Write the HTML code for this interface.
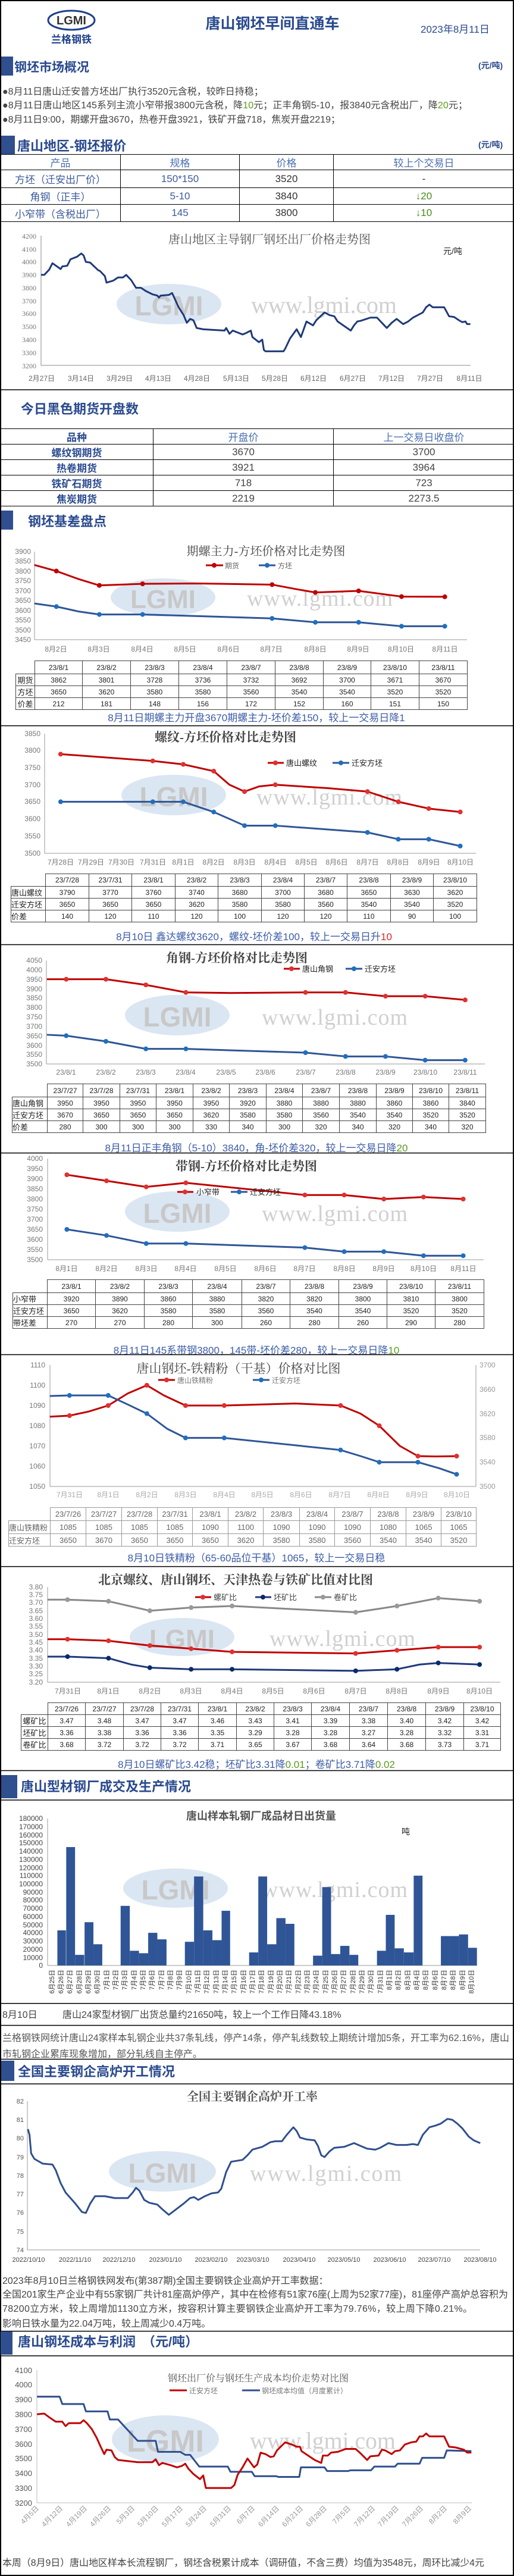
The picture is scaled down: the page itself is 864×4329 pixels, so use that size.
<!DOCTYPE html>
<html><head><meta charset="utf-8"><style>
body{margin:0;padding:0;background:#fff;}
#w{position:relative;width:864px;height:4329px;overflow:hidden;background:#fff;font-family:"Liberation Sans","Noto Sans CJK SC",sans-serif;}
svg text{font-family:"Liberation Sans","Noto Sans CJK SC",sans-serif;}
svg .sf{font-family:"Liberation Serif","Noto Serif CJK SC",serif;}
.ln{fill:none;vector-effect:non-scaling-stroke;stroke-width:3;stroke-linejoin:round;}
.dt{fill:none;vector-effect:non-scaling-stroke;stroke-width:8;stroke-linecap:round;}
.yl{font-size:12px;fill:#777;text-anchor:end;}
.xl{font-size:12px;fill:#777;text-anchor:middle;}
table{position:absolute;border-collapse:collapse;table-layout:fixed;font-size:12px;color:#222;}
td{border:1px solid #444;text-align:center;padding:0;white-space:nowrap;overflow:hidden;}
td.e{border-top:hidden;border-left:hidden;}
</style></head><body><div id="w">
<svg width="864" height="4329" viewBox="0 0 864 4329" style="position:absolute;left:0;top:0">
<!-- outer borders -->
<line x1="1" y1="0" x2="1" y2="4329" stroke="#000" stroke-width="2"/>
<line x1="863" y1="0" x2="863" y2="4329" stroke="#000" stroke-width="2"/>
<line x1="0" y1="1" x2="864" y2="1" stroke="#000" stroke-width="2"/>
<line x1="0" y1="4328" x2="864" y2="4328" stroke="#000" stroke-width="2"/>

<!-- header -->
<ellipse cx="120" cy="34" rx="39" ry="16" fill="#fff" stroke="#1e3f8c" stroke-width="3"/>
<text x="120" y="41" font-size="20" font-weight="bold" fill="#333" text-anchor="middle">LGMI</text>
<text x="120" y="72" font-size="17" font-weight="bold" fill="#1e3f8c" text-anchor="middle">兰格钢铁</text>
<text x="458" y="48" font-size="25" font-weight="bold" fill="#2a4a8e" text-anchor="middle">唐山钢坯早间直通车</text>
<text x="707" y="55" font-size="17" fill="#2a4a8e">2023年8月11日</text>

<!-- section 1 -->
<rect x="2" y="95" width="20" height="32" fill="#2f4f8f"/>
<text x="24" y="120" font-size="21" font-weight="bold" fill="#2a4a8e">钢坯市场概况</text>
<text x="804" y="115" font-size="14" font-weight="bold" fill="#2a4a8e">(元/吨)</text>
<text x="4" y="159" font-size="16" fill="#444">●8月11日唐山迁安普方坯出厂执行3520元含税，较昨日持稳；</text>
<text x="4" y="182" font-size="16" fill="#444" textLength="782">●8月11日唐山地区145系列主流小窄带报3800元含税，降<tspan fill="#5a9a20">10</tspan>元；正丰角钢5-10，报3840元含税出厂，降<tspan fill="#5a9a20">20</tspan>元；</text>
<text x="4" y="206" font-size="16" fill="#444" textLength="568">●8月11日9:00，期螺开盘3670，热卷开盘3921，铁矿开盘718，焦炭开盘2219；</text>

<rect x="2" y="228" width="23" height="31" fill="#2f4f8f"/>
<text x="29" y="253" font-size="22" font-weight="bold" fill="#2a4a8e">唐山地区-钢坯报价</text>
<text x="804" y="248" font-size="14" font-weight="bold" fill="#2a4a8e">(元/吨)</text>

<!-- chart 1 -->
<ellipse cx="284" cy="511" rx="88" ry="34" fill="#dbe6f3"/>
<text x="284" y="530" font-size="46" font-weight="bold" fill="#c8c8c8" text-anchor="middle">LGMI</text>
<text x="422" y="526" class="sf" font-size="40" fill="#d0d0d0" textLength="245">www.lgmi.com</text>
<text x="453" y="409" class="sf" font-size="20" fill="#555" text-anchor="middle">唐山地区主导钢厂钢坯出厂价格走势图</text>
<text x="745" y="427" font-size="14" fill="#222">元/吨</text>
<g class="sf">
<text class="yl sf" x="61" y="401">4200</text><text class="yl sf" x="61" y="423">4100</text><text class="yl sf" x="61" y="444">4000</text><text class="yl sf" x="61" y="466">3900</text><text class="yl sf" x="61" y="488">3800</text><text class="yl sf" x="61" y="510">3700</text><text class="yl sf" x="61" y="531">3600</text><text class="yl sf" x="61" y="553">3500</text><text class="yl sf" x="61" y="575">3400</text><text class="yl sf" x="61" y="597">3300</text><text class="yl sf" x="61" y="619">3200</text>
</g>
<line x1="69" y1="396" x2="69" y2="614" stroke="#888"/><line x1="69" y1="614" x2="791" y2="614" stroke="#888"/>
<g font-size="12" fill="#666" text-anchor="middle">
<text x="70" y="640">2月27日</text><text x="136" y="640">3月14日</text><text x="201" y="640">3月29日</text><text x="266" y="640">4月13日</text><text x="331" y="640">4月28日</text><text x="397" y="640">5月13日</text><text x="462" y="640">5月28日</text><text x="527" y="640">6月12日</text><text x="593" y="640">6月27日</text><text x="658" y="640">7月12日</text><text x="723" y="640">7月27日</text><text x="789" y="640">8月11日</text>
</g>
<g transform="translate(0,396.6) scale(0.551,0.2177)">
<path class="ln" stroke="#1f3a7a" d="M125,300 L135,300 L150,260 L160,210 L185,255 L190,235 L205,230 L215,180 L235,160 L248,135 L255,150 L262,200 L275,205 L300,265 L305,270 L320,310 L325,360 L345,345 L360,320 L375,320 L385,300 L400,340 L415,400 L430,400 L445,425 L465,450 L480,460 L485,475 L490,460 L515,455 L525,440 L545,550 L560,610 L570,670 L580,640 L590,650 L600,710 L620,720 L650,725 L685,730 L690,710 L700,755 L710,730 L740,760 L750,750 L765,730 L770,780 L790,820 L800,800 L805,880 L810,890 L865,890 L870,870 L885,790 L905,720 L918,780 L935,660 L955,690 L965,650 L990,590 L1005,610 L1020,620 L1030,660 L1070,730 L1080,690 L1090,660 L1100,655 L1130,630 L1150,630 L1180,710 L1195,670 L1210,640 L1230,680 L1245,660 L1260,630 L1275,610 L1290,590 L1300,550 L1310,530 L1320,550 L1355,550 L1370,620 L1385,625 L1400,650 L1410,665 L1420,660 L1425,680 L1435,680"/>
</g>
<line x1="0" y1="655" x2="864" y2="655" stroke="#000" stroke-width="1.5"/>

<!-- futures -->
<text x="35" y="695" font-size="22" font-weight="bold" fill="#2a4a8e">今日黑色期货开盘数</text>

<!-- section basis -->
<rect x="2" y="858" width="20" height="32" fill="#2f4f8f"/>
<text x="47" y="884" font-size="22" font-weight="bold" fill="#2a4a8e">钢坯基差盘点</text>

<!-- chart 2 -->
<ellipse cx="274" cy="1004" rx="88" ry="32" fill="#dbe6f3"/>
<text x="274" y="1022" font-size="44" font-weight="bold" fill="#c8c8c8" text-anchor="middle">LGMI</text>
<text x="415" y="1018" class="sf" font-size="38" fill="#d0d0d0" textLength="245">www.lgmi.com</text>
<text x="447" y="933" class="sf" font-size="20" fill="#444" text-anchor="middle">期螺主力-方坯价格对比走势图</text>
<line x1="346" y1="950" x2="375" y2="950" stroke="#c00000" stroke-width="3"/><circle cx="360" cy="950" r="4" fill="#c00000"/><text x="378" y="955" font-size="12" fill="#666">期货</text>
<line x1="435" y1="950" x2="463" y2="950" stroke="#2f5597" stroke-width="3"/><circle cx="449" cy="950" r="4" fill="#1f6fc0"/><text x="467" y="955" font-size="12" fill="#666">方坯</text>
<g>
<text class="yl" x="52" y="931">3900</text><text class="yl" x="52" y="947">3850</text><text class="yl" x="52" y="964">3800</text><text class="yl" x="52" y="980">3750</text><text class="yl" x="52" y="997">3700</text><text class="yl" x="52" y="1013">3650</text><text class="yl" x="52" y="1030">3600</text><text class="yl" x="52" y="1046">3550</text><text class="yl" x="52" y="1063">3500</text><text class="yl" x="52" y="1079">3450</text>
</g>
<line x1="58" y1="927" x2="58" y2="1075" stroke="#999"/><line x1="58" y1="1075" x2="785" y2="1075" stroke="#999"/>
<g class="xl"><text class="xl" x="94" y="1095">8月2日</text><text class="xl" x="166" y="1095">8月3日</text><text class="xl" x="239" y="1095">8月4日</text><text class="xl" x="311" y="1095">8月5日</text><text class="xl" x="384" y="1095">8月6日</text><text class="xl" x="456" y="1095">8月7日</text><text class="xl" x="530" y="1095">8月8日</text><text class="xl" x="602" y="1095">8月9日</text><text class="xl" x="674" y="1095">8月10日</text><text class="xl" x="748" y="1095">8月11日</text></g>
<g transform="translate(0,927) scale(0.551,0.33)">
<path class="ln" stroke="#c00000" d="M105,68 L172,99 L240,140 L303,172 L435,164 L600,162 L830,168 L900,190 L962,208 L1094,200 L1225,229 L1357,230"/>
<path class="dt" stroke="#c00000" d="M172,99h0M303,172h0M435,164h0M830,168h0M962,208h0M1094,200h0M1225,229h0M1357,230h0"/>
<path class="ln" stroke="#2f5597" d="M105,264 L172,280 L240,305 L303,320 L435,320 L830,340 L962,360 L1094,360 L1225,380 L1357,380"/>
<path class="dt" stroke="#1f6fc0" d="M172,280h0M303,320h0M435,320h0M830,340h0M962,360h0M1094,360h0M1225,380h0M1357,380h0"/>
</g>
<text x="431" y="1212" font-size="17" fill="#3c5ca8" text-anchor="middle">8月11日期螺主力开盘3670期螺主力-坯价差150，较上一交易日降1</text>
<line x1="0" y1="1219.6" x2="864" y2="1219.6" stroke="#000" stroke-width="1.5"/>

<!-- chart 3 -->
<ellipse cx="292" cy="1336" rx="88" ry="34" fill="#dbe6f3"/>
<text x="292" y="1355" font-size="46" font-weight="bold" fill="#c8c8c8" text-anchor="middle">LGMI</text>
<text x="431" y="1352" class="sf" font-size="38" fill="#d0d0d0" textLength="245">www.lgmi.com</text>
<text x="379" y="1246" class="sf" font-size="21" font-weight="bold" fill="#444" text-anchor="middle">螺纹-方坯价格对比走势图</text>
<line x1="450" y1="1282" x2="477" y2="1282" stroke="#c00000" stroke-width="3"/><circle cx="463" cy="1282" r="4" fill="#e03030"/><text x="481" y="1287" font-size="13" fill="#222">唐山螺纹</text>
<line x1="559" y1="1282" x2="587" y2="1282" stroke="#2f5597" stroke-width="3"/><circle cx="573" cy="1282" r="4" fill="#1f6fc0"/><text x="591" y="1287" font-size="13" fill="#222">迁安方坯</text>
<text class="yl" x="68" y="1237">3850</text><text class="yl" x="68" y="1265">3800</text><text class="yl" x="68" y="1294">3750</text><text class="yl" x="68" y="1323">3700</text><text class="yl" x="68" y="1351">3650</text><text class="yl" x="68" y="1380">3600</text><text class="yl" x="68" y="1409">3550</text><text class="yl" x="68" y="1438">3500</text>
<line x1="75" y1="1233" x2="75" y2="1434" stroke="#999"/><line x1="75" y1="1434" x2="800" y2="1434" stroke="#999"/>
<text class="xl" x="102" y="1453">7月28日</text><text class="xl" x="153" y="1453">7月29日</text><text class="xl" x="204" y="1453">7月30日</text><text class="xl" x="257" y="1453">7月31日</text><text class="xl" x="308" y="1453">8月1日</text><text class="xl" x="359" y="1453">8月2日</text><text class="xl" x="411" y="1453">8月3日</text><text class="xl" x="463" y="1453">8月4日</text><text class="xl" x="515" y="1453">8月5日</text><text class="xl" x="566" y="1453">8月6日</text><text class="xl" x="618" y="1453">8月7日</text><text class="xl" x="669" y="1453">8月8日</text><text class="xl" x="721" y="1453">8月9日</text><text class="xl" x="774" y="1453">8月10日</text>
<g transform="translate(0,1233) scale(0.551,0.572)">
<path class="ln" stroke="#c00000" d="M185,60 L466,80 L559,90 L652,110 L700,150 L746,170 L790,155 L840,150 L1000,160 L1121,170 L1215,200 L1308,220 L1404,230"/>
<path class="dt" stroke="#e03030" d="M185,60h0M466,80h0M559,90h0M652,110h0M746,170h0M840,150h0M1121,170h0M1215,200h0M1308,220h0M1404,230h0"/>
<path class="ln" stroke="#2f5597" d="M185,200 L466,200 L559,200 L652,230 L746,270 L840,270 L1121,290 L1215,310 L1308,310 L1404,330"/>
<path class="dt" stroke="#1f6fc0" d="M185,200h0M466,200h0M559,200h0M652,230h0M746,270h0M840,270h0M1121,290h0M1215,310h0M1308,310h0M1404,330h0"/>
</g>
<text x="427" y="1580" font-size="17" fill="#3c5ca8" text-anchor="middle">8月10日 鑫达螺纹3620，螺纹-坯价差100，较上一交易日升<tspan fill="#e02020">10</tspan></text>
<line x1="0" y1="1587.5" x2="864" y2="1587.5" stroke="#000" stroke-width="1.5"/>

<!-- chart 4 -->
<ellipse cx="298" cy="1706" rx="88" ry="34" fill="#dbe6f3"/>
<text x="298" y="1725" font-size="46" font-weight="bold" fill="#c8c8c8" text-anchor="middle">LGMI</text>
<text x="440" y="1722" class="sf" font-size="38" fill="#d0d0d0" textLength="245">www.lgmi.com</text>
<text x="398" y="1617" class="sf" font-size="21" font-weight="bold" fill="#444" text-anchor="middle">角钢-方坯价格对比走势图</text>
<line x1="477" y1="1628" x2="504" y2="1628" stroke="#c00000" stroke-width="3"/><circle cx="490" cy="1628" r="4" fill="#e03030"/><text x="508" y="1633" font-size="13" fill="#222">唐山角钢</text>
<line x1="581" y1="1628" x2="609" y2="1628" stroke="#2f5597" stroke-width="3"/><circle cx="595" cy="1628" r="4" fill="#1f6fc0"/><text x="613" y="1633" font-size="13" fill="#222">迁安方坯</text>
<text class="yl" x="71" y="1618">4050</text><text class="yl" x="71" y="1634">4000</text><text class="yl" x="71" y="1650">3950</text><text class="yl" x="71" y="1666">3900</text><text class="yl" x="71" y="1681">3850</text><text class="yl" x="71" y="1697">3800</text><text class="yl" x="71" y="1713">3750</text><text class="yl" x="71" y="1729">3700</text><text class="yl" x="71" y="1745">3650</text><text class="yl" x="71" y="1761">3600</text><text class="yl" x="71" y="1776">3550</text><text class="yl" x="71" y="1792">3500</text>
<line x1="78" y1="1614" x2="78" y2="1788" stroke="#999"/><line x1="78" y1="1788" x2="815" y2="1788" stroke="#999"/>
<text class="xl" x="111" y="1806">23/8/1</text><text class="xl" x="178" y="1806">23/8/2</text><text class="xl" x="245" y="1806">23/8/3</text><text class="xl" x="312" y="1806">23/8/4</text><text class="xl" x="380" y="1806">23/8/5</text><text class="xl" x="446" y="1806">23/8/6</text><text class="xl" x="514" y="1806">23/8/7</text><text class="xl" x="581" y="1806">23/8/8</text><text class="xl" x="648" y="1806">23/8/9</text><text class="xl" x="715" y="1806">23/8/10</text><text class="xl" x="782" y="1806">23/8/11</text>
<g transform="translate(0,1614) scale(0.551,0.3163)">
<path class="ln" stroke="#c00000" d="M143,100 L202,100 L323,100 L445,130 L567,170 L700,173 L932,170 L1054,170 L1176,190 L1297,190 L1419,210"/>
<path class="dt" stroke="#e03030" d="M202,100h0M323,100h0M445,130h0M567,170h0M932,170h0M1054,170h0M1176,190h0M1297,190h0M1419,210h0"/>
<path class="ln" stroke="#2f5597" d="M143,395 L202,400 L323,430 L445,470 L567,470 L932,490 L1054,510 L1176,510 L1297,530 L1419,530"/>
<path class="dt" stroke="#1f6fc0" d="M202,400h0M323,430h0M445,470h0M567,470h0M932,490h0M1054,510h0M1176,510h0M1297,530h0M1419,530h0"/>
</g>
<text x="431" y="1935" font-size="17" fill="#3c5ca8" text-anchor="middle">8月11日正丰角钢（5-10）3840，角-坯价差320，较上一交易日降<tspan fill="#5a9a20">20</tspan></text>
<line x1="0" y1="1937.6" x2="864" y2="1937.6" stroke="#000" stroke-width="1.5"/>

<!-- chart 5 -->
<ellipse cx="298" cy="2036" rx="88" ry="34" fill="#dbe6f3"/>
<text x="298" y="2055" font-size="46" font-weight="bold" fill="#c8c8c8" text-anchor="middle">LGMI</text>
<text x="440" y="2052" class="sf" font-size="38" fill="#d0d0d0" textLength="245">www.lgmi.com</text>
<text x="414" y="1967" class="sf" font-size="21" font-weight="bold" fill="#444" text-anchor="middle">带钢-方坯价格对比走势图</text>
<text class="yl" x="72" y="1951">4000</text><text class="yl" x="72" y="1968">3950</text><text class="yl" x="72" y="1985">3900</text><text class="yl" x="72" y="2002">3850</text><text class="yl" x="72" y="2019">3800</text><text class="yl" x="72" y="2036">3750</text><text class="yl" x="72" y="2053">3700</text><text class="yl" x="72" y="2070">3650</text><text class="yl" x="72" y="2087">3600</text><text class="yl" x="72" y="2104">3550</text><text class="yl" x="72" y="2121">3500</text>
<line x1="80" y1="1947" x2="80" y2="2117" stroke="#999"/><line x1="80" y1="2117" x2="813" y2="2117" stroke="#999"/>
<text class="xl" x="112" y="2136">8月1日</text><text class="xl" x="179" y="2136">8月2日</text><text class="xl" x="246" y="2136">8月3日</text><text class="xl" x="312" y="2136">8月4日</text><text class="xl" x="379" y="2136">8月5日</text><text class="xl" x="446" y="2136">8月6日</text><text class="xl" x="512" y="2136">8月7日</text><text class="xl" x="579" y="2136">8月8日</text><text class="xl" x="645" y="2136">8月9日</text><text class="xl" x="712" y="2136">8月10日</text><text class="xl" x="779" y="2136">8月11日</text>
<g transform="translate(0,1947) scale(0.551,0.34)">
<path class="ln" stroke="#c00000" d="M204,80 L325,110 L446,140 L567,120 L930,180 L1050,180 L1171,200 L1292,190 L1413,200"/>
<path class="dt" stroke="#e03030" d="M204,80h0M325,110h0M446,140h0M567,120h0M930,180h0M1050,180h0M1171,200h0M1292,190h0M1413,200h0"/>
<path class="ln" stroke="#2f5597" d="M204,350 L325,380 L446,420 L567,420 L930,440 L1050,460 L1171,460 L1292,480 L1413,480"/>
<path class="dt" stroke="#1f6fc0" d="M204,350h0M325,380h0M446,420h0M567,420h0M930,440h0M1050,460h0M1171,460h0M1292,480h0M1413,480h0"/>
</g>
<line x1="298" y1="2003" x2="325" y2="2003" stroke="#c00000" stroke-width="3"/><circle cx="311" cy="2003" r="4" fill="#e03030"/><text x="330" y="2008" font-size="13" fill="#222">小窄带</text>
<line x1="388" y1="2003" x2="416" y2="2003" stroke="#2f5597" stroke-width="3"/><circle cx="402" cy="2003" r="4" fill="#1f6fc0"/><text x="420" y="2008" font-size="13" fill="#222">迁安方坯</text>
<text x="431" y="2275" font-size="17" fill="#3c5ca8" text-anchor="middle">8月11日145系带钢3800，145带-坯价差280，较上一交易日降<tspan fill="#5a9a20">10</tspan></text>
<line x1="0" y1="2276.5" x2="864" y2="2276.5" stroke="#000" stroke-width="1.5"/>

<!-- chart 6 -->
<text x="401" y="2307" class="sf" font-size="21" fill="#444" text-anchor="middle">唐山钢坯-铁精粉（干基）价格对比图</text>
<line x1="266" y1="2319" x2="294" y2="2319" stroke="#c00000" stroke-width="3"/><circle cx="280" cy="2319" r="4" fill="#e03030"/><text x="298" y="2324" font-size="12" fill="#777">唐山铁精粉</text>
<line x1="425" y1="2319" x2="453" y2="2319" stroke="#2f5597" stroke-width="3"/><circle cx="439" cy="2319" r="4" fill="#1f6fc0"/><text x="457" y="2324" font-size="12" fill="#777">迁安方坯</text>
<text class="yl" x="76" y="2298">1110</text><text class="yl" x="76" y="2332">1100</text><text class="yl" x="76" y="2366">1090</text><text class="yl" x="76" y="2400">1080</text><text class="yl" x="76" y="2434">1070</text><text class="yl" x="76" y="2468">1060</text><text class="yl" x="76" y="2502">1050</text>
<g font-size="12" fill="#999"><text x="806" y="2298">3700</text><text x="806" y="2339">3660</text><text x="806" y="2380">3620</text><text x="806" y="2420">3580</text><text x="806" y="2461">3540</text><text x="806" y="2502">3500</text></g>
<line x1="84" y1="2294" x2="84" y2="2498" stroke="#999"/><line x1="800" y1="2294" x2="800" y2="2498" stroke="#999"/><line x1="84" y1="2498" x2="800" y2="2498" stroke="#999"/>
<g fill="#aaa"><text class="xl" x="117" y="2516" style="fill:#aaa">7月31日</text><text class="xl" x="182" y="2516" style="fill:#aaa">8月1日</text><text class="xl" x="247" y="2516" style="fill:#aaa">8月2日</text><text class="xl" x="312" y="2516" style="fill:#aaa">8月3日</text><text class="xl" x="377" y="2516" style="fill:#aaa">8月4日</text><text class="xl" x="441" y="2516" style="fill:#aaa">8月5日</text><text class="xl" x="506" y="2516" style="fill:#aaa">8月6日</text><text class="xl" x="571" y="2516" style="fill:#aaa">8月7日</text><text class="xl" x="636" y="2516" style="fill:#aaa">8月8日</text><text class="xl" x="701" y="2516" style="fill:#aaa">8月9日</text><text class="xl" x="768" y="2516" style="fill:#aaa">8月10日</text></g>
<g transform="translate(0,2294) scale(0.551,3.4)">
<path class="ln" stroke="#c00000" d="M152,25.5 L212,25 L270,23 L330,20 L390,14 L448,10 L500,15 L566,20 L684,20 L900,19 L1039,20 L1100,24 L1157,30 L1220,40 L1275,45 L1330,45.2 L1393,45"/>
<path class="dt" stroke="#e03030" d="M212,25h0M330,20h0M448,10h0M566,20h0M684,20h0M1039,20h0M1157,30h0M1275,45h0M1393,45h0"/>
</g>
<g transform="translate(0,2294) scale(0.551,1.02)">
<path class="ln" stroke="#2f5597" d="M152,51 L212,50 L330,50 L390,65 L448,80 L510,105 L566,120 L684,120 L1039,140 L1100,150 L1157,160 L1275,160 L1340,170 L1393,180"/>
<path class="dt" stroke="#1f6fc0" d="M212,50h0M330,50h0M448,80h0M566,120h0M684,120h0M1039,140h0M1157,160h0M1275,160h0M1393,180h0"/>
</g>
<text x="431" y="2624" font-size="17" fill="#3c5ca8" text-anchor="middle">8月10日铁精粉（65-60品位干基）1065，较上一交易日稳</text>
<line x1="0" y1="2632.6" x2="864" y2="2632.6" stroke="#000" stroke-width="1.5"/>

<!-- chart 7 -->
<ellipse cx="306" cy="2751" rx="88" ry="32" fill="#dbe6f3"/>
<text x="306" y="2769" font-size="44" font-weight="bold" fill="#c8c8c8" text-anchor="middle">LGMI</text>
<text x="453" y="2766" class="sf" font-size="38" fill="#d0d0d0" textLength="245">www.lgmi.com</text>
<text x="396" y="2662" class="sf" font-size="21" font-weight="bold" fill="#444" text-anchor="middle">北京螺纹、唐山钢坯、天津热卷与铁矿比值对比图</text>
<line x1="328" y1="2684" x2="355" y2="2684" stroke="#c00000" stroke-width="3"/><circle cx="341" cy="2684" r="4" fill="#e03030"/><text x="359" y="2689" font-size="13" fill="#444">螺矿比</text>
<line x1="429" y1="2684" x2="456" y2="2684" stroke="#1f3a7a" stroke-width="3"/><circle cx="442" cy="2684" r="4" fill="#0c2a6a"/><text x="460" y="2689" font-size="13" fill="#444">坯矿比</text>
<line x1="529" y1="2684" x2="557" y2="2684" stroke="#888" stroke-width="3"/><circle cx="543" cy="2684" r="4" fill="#999"/><text x="561" y="2689" font-size="13" fill="#444">卷矿比</text>
<g><text class="yl" x="72" y="2671">3.80</text><text class="yl" x="72" y="2684">3.75</text><text class="yl" x="72" y="2697">3.70</text><text class="yl" x="72" y="2711">3.65</text><text class="yl" x="72" y="2724">3.60</text><text class="yl" x="72" y="2737">3.55</text><text class="yl" x="72" y="2751">3.50</text><text class="yl" x="72" y="2764">3.45</text><text class="yl" x="72" y="2777">3.40</text><text class="yl" x="72" y="2791">3.35</text><text class="yl" x="72" y="2804">3.30</text><text class="yl" x="72" y="2817">3.25</text><text class="yl" x="72" y="2831">3.20</text></g>
<line x1="80" y1="2667" x2="80" y2="2827" stroke="#999"/><line x1="80" y1="2827" x2="841" y2="2827" stroke="#999"/>
<text class="xl" x="114" y="2846">7月31日</text><text class="xl" x="182" y="2846">8月1日</text><text class="xl" x="252" y="2846">8月2日</text><text class="xl" x="321" y="2846">8月3日</text><text class="xl" x="390" y="2846">8月4日</text><text class="xl" x="459" y="2846">8月5日</text><text class="xl" x="528" y="2846">8月6日</text><text class="xl" x="598" y="2846">8月7日</text><text class="xl" x="667" y="2846">8月8日</text><text class="xl" x="737" y="2846">8月9日</text><text class="xl" x="806" y="2846">8月10日</text>
<g transform="translate(0,2667) scale(0.551,265.8)">
<path class="ln" stroke="#888" d="M145,0.08 L206,0.08 L331,0.09 L457,0.15 L583,0.13 L708,0.12 L1085,0.16 L1211,0.12 L1337,0.07 L1463,0.09"/>
<path class="dt" stroke="#999" d="M206,0.08h0M331,0.09h0M457,0.15h0M583,0.13h0M708,0.12h0M1085,0.16h0M1211,0.12h0M1337,0.07h0M1463,0.09h0"/>
<path class="ln" stroke="#c00000" d="M145,0.33 L206,0.33 L331,0.34 L457,0.37 L583,0.39 L708,0.41 L1085,0.42 L1211,0.40 L1337,0.38 L1463,0.38"/>
<path class="dt" stroke="#e03030" d="M206,0.33h0M331,0.34h0M457,0.37h0M583,0.39h0M708,0.41h0M1085,0.42h0M1211,0.40h0M1337,0.38h0M1463,0.38h0"/>
<path class="ln" stroke="#1f3a7a" d="M145,0.44 L206,0.44 L331,0.45 L400,0.49 L457,0.51 L583,0.52 L708,0.52 L1085,0.53 L1211,0.52 L1280,0.49 L1337,0.48 L1463,0.49"/>
<path class="dt" stroke="#0c2a6a" d="M206,0.44h0M331,0.45h0M457,0.51h0M583,0.52h0M708,0.52h0M1085,0.53h0M1211,0.52h0M1337,0.48h0M1463,0.49h0"/>
</g>
<text x="431" y="2971" font-size="17" fill="#3c5ca8" text-anchor="middle">8月10日螺矿比3.42稳；坯矿比3.31降<tspan fill="#5a9a20">0.01</tspan>；卷矿比3.71降<tspan fill="#5a9a20">0.02</tspan></text>
<line x1="0" y1="2975.5" x2="864" y2="2975.5" stroke="#000" stroke-width="1.5"/>

<!-- section 型材 -->
<rect x="2" y="2983" width="27" height="39" fill="#2f4f8f"/>
<text x="35" y="3010" font-size="22" font-weight="bold" fill="#2a4a8e">唐山型材钢厂成交及生产情况</text>
<line x1="0" y1="3025" x2="864" y2="3025" stroke="#000" stroke-width="1.5"/>

<!-- bar chart -->
<ellipse cx="295" cy="3173" rx="88" ry="33" fill="#dbe6f3"/>
<text x="295" y="3192" font-size="46" font-weight="bold" fill="#c8c8c8" text-anchor="middle">LGMI</text>
<text x="440" y="3188" class="sf" font-size="38" fill="#d0d0d0" textLength="245">www.lgmi.com</text>
<text x="439" y="3058" font-size="18" font-weight="bold" fill="#555" text-anchor="middle">唐山样本轧钢厂成品材日出货量</text>
<text x="675" y="3083" font-size="14" fill="#222">吨</text>
<g font-size="12" fill="#444" text-anchor="end">
<text x="72" y="3060">180000</text><text x="72" y="3074">170000</text><text x="72" y="3088">160000</text><text x="72" y="3101">150000</text><text x="72" y="3115">140000</text><text x="72" y="3129">130000</text><text x="72" y="3143">120000</text><text x="72" y="3156">110000</text><text x="72" y="3170">100000</text><text x="72" y="3184">90000</text><text x="72" y="3197">80000</text><text x="72" y="3211">70000</text><text x="72" y="3225">60000</text><text x="72" y="3239">50000</text><text x="72" y="3252">40000</text><text x="72" y="3266">30000</text><text x="72" y="3280">20000</text><text x="72" y="3294">10000</text><text x="72" y="3307">0</text>
</g>
<line x1="80" y1="3056" x2="80" y2="3303" stroke="#999"/><line x1="80" y1="3303" x2="802" y2="3303" stroke="#999"/>
<g transform="translate(0,3303) scale(0.551,-0.0013722)" fill="#2f5597">
<rect x="175" y="0" width="26" height="43000"/><rect x="202" y="0" width="27" height="145000"/><rect x="229" y="0" width="28" height="13000"/><rect x="258" y="0" width="27" height="53000"/><rect x="285" y="0" width="27" height="26000"/>
<rect x="368" y="0" width="28" height="73000"/><rect x="396" y="0" width="28" height="18000"/><rect x="424" y="0" width="28" height="15000"/><rect x="452" y="0" width="28" height="40000"/><rect x="480" y="0" width="28" height="32000"/>
<rect x="564" y="0" width="28" height="29000"/><rect x="592" y="0" width="28" height="109000"/><rect x="620" y="0" width="28" height="43000"/><rect x="648" y="0" width="28" height="31000"/><rect x="676" y="0" width="26" height="67000"/>
<rect x="760" y="0" width="28" height="16000"/><rect x="788" y="0" width="27" height="109000"/><rect x="815" y="0" width="28" height="26000"/><rect x="843" y="0" width="28" height="58000"/><rect x="871" y="0" width="27" height="51000"/>
<rect x="955" y="0" width="28" height="12000"/><rect x="983" y="0" width="27" height="96000"/><rect x="1010" y="0" width="28" height="14000"/><rect x="1038" y="0" width="28" height="24000"/><rect x="1066" y="0" width="27" height="13000"/>
<rect x="1150" y="0" width="27" height="18000"/><rect x="1177" y="0" width="27" height="62000"/><rect x="1204" y="0" width="28" height="21000"/><rect x="1232" y="0" width="30" height="16000"/><rect x="1262" y="0" width="27" height="110000"/>
<rect x="1345" y="0" width="27" height="36000"/><rect x="1372" y="0" width="28" height="36000"/><rect x="1400" y="0" width="28" height="38000"/><rect x="1428" y="0" width="27" height="21650"/>
</g>
<g font-size="11" fill="#333" text-anchor="end">
<text transform="translate(91,3310) rotate(-90)">6月25日</text><text transform="translate(106,3310) rotate(-90)">6月26日</text><text transform="translate(121,3310) rotate(-90)">6月27日</text><text transform="translate(137,3310) rotate(-90)">6月28日</text><text transform="translate(152,3310) rotate(-90)">6月29日</text><text transform="translate(167,3310) rotate(-90)">6月30日</text><text transform="translate(183,3310) rotate(-90)">7月1日</text><text transform="translate(198,3310) rotate(-90)">7月2日</text><text transform="translate(213,3310) rotate(-90)">7月3日</text><text transform="translate(229,3310) rotate(-90)">7月4日</text><text transform="translate(244,3310) rotate(-90)">7月5日</text><text transform="translate(259,3310) rotate(-90)">7月6日</text><text transform="translate(275,3310) rotate(-90)">7月7日</text><text transform="translate(290,3310) rotate(-90)">7月8日</text><text transform="translate(305,3310) rotate(-90)">7月9日</text><text transform="translate(321,3310) rotate(-90)">7月10日</text><text transform="translate(336,3310) rotate(-90)">7月11日</text><text transform="translate(351,3310) rotate(-90)">7月12日</text><text transform="translate(367,3310) rotate(-90)">7月13日</text><text transform="translate(382,3310) rotate(-90)">7月14日</text><text transform="translate(397,3310) rotate(-90)">7月15日</text><text transform="translate(413,3310) rotate(-90)">7月16日</text><text transform="translate(428,3310) rotate(-90)">7月17日</text><text transform="translate(443,3310) rotate(-90)">7月18日</text><text transform="translate(459,3310) rotate(-90)">7月19日</text><text transform="translate(474,3310) rotate(-90)">7月20日</text><text transform="translate(489,3310) rotate(-90)">7月21日</text><text transform="translate(505,3310) rotate(-90)">7月22日</text><text transform="translate(520,3310) rotate(-90)">7月23日</text><text transform="translate(535,3310) rotate(-90)">7月24日</text><text transform="translate(551,3310) rotate(-90)">7月25日</text><text transform="translate(566,3310) rotate(-90)">7月26日</text><text transform="translate(581,3310) rotate(-90)">7月27日</text><text transform="translate(597,3310) rotate(-90)">7月28日</text><text transform="translate(612,3310) rotate(-90)">7月29日</text><text transform="translate(627,3310) rotate(-90)">7月30日</text><text transform="translate(643,3310) rotate(-90)">7月31日</text><text transform="translate(658,3310) rotate(-90)">8月1日</text><text transform="translate(673,3310) rotate(-90)">8月2日</text><text transform="translate(689,3310) rotate(-90)">8月3日</text><text transform="translate(704,3310) rotate(-90)">8月4日</text><text transform="translate(719,3310) rotate(-90)">8月5日</text><text transform="translate(735,3310) rotate(-90)">8月6日</text><text transform="translate(750,3310) rotate(-90)">8月7日</text><text transform="translate(765,3310) rotate(-90)">8月8日</text><text transform="translate(781,3310) rotate(-90)">8月9日</text><text transform="translate(796,3310) rotate(-90)">8月10日</text>
</g>
<line x1="0" y1="3366.8" x2="864" y2="3366.8" stroke="#000" stroke-width="1.5"/>
<text x="4" y="3391" font-size="16" fill="#444">8月10日</text>
<text x="105" y="3391" font-size="16" fill="#444">唐山24家型材钢厂出货总量约21650吨，较上一个工作日降43.18%</text>
<line x1="0" y1="3403.6" x2="864" y2="3403.6" stroke="#000" stroke-width="1.5"/>
<text x="4" y="3430" font-size="16" fill="#555" textLength="852">兰格钢铁网统计唐山24家样本轧钢企业共37条轧线，停产14条，停产轧线数较上期统计增加5条，开工率为62.16%，唐山</text>
<text x="4" y="3457" font-size="16" fill="#555">市轧钢企业累库现象增加，部分轧线自主停产。</text>
<line x1="0" y1="3460.5" x2="864" y2="3460.5" stroke="#000" stroke-width="1.5"/>

<!-- section BF -->
<rect x="2" y="3463" width="22" height="34" fill="#2f4f8f"/>
<text x="30" y="3489" font-size="22" font-weight="bold" fill="#2a4a8e">全国主要钢企高炉开工情况</text>
<line x1="0" y1="3502" x2="864" y2="3502" stroke="#000" stroke-width="1.5"/>
<ellipse cx="273" cy="3649" rx="90" ry="34" fill="#dbe6f3"/>
<text x="273" y="3668" font-size="46" font-weight="bold" fill="#c8c8c8" text-anchor="middle">LGMI</text>
<text x="420" y="3665" class="sf" font-size="38" fill="#d0d0d0" textLength="255">www.lgmi.com</text>
<text x="424" y="3530" class="sf" font-size="20" font-weight="bold" fill="#555" text-anchor="middle">全国主要钢企高炉开工率</text>
<g font-size="11" fill="#555" text-anchor="end"><text x="40" y="3535">82</text><text x="40" y="3566">81</text><text x="40" y="3597">80</text><text x="40" y="3629">79</text><text x="40" y="3660">78</text><text x="40" y="3691">77</text><text x="40" y="3722">76</text><text x="40" y="3754">75</text><text x="40" y="3785">74</text></g>
<line x1="46" y1="3531" x2="46" y2="3781" stroke="#999"/><line x1="46" y1="3781" x2="807" y2="3781" stroke="#999"/>
<g font-size="11" fill="#444" text-anchor="middle"><text x="48" y="3801">2022/10/10</text><text x="126" y="3801">2022/11/10</text><text x="200" y="3801">2022/12/10</text><text x="278" y="3801">2023/01/10</text><text x="355" y="3801">2023/02/10</text><text x="425" y="3801">2023/03/10</text><text x="503" y="3801">2023/04/10</text><text x="578" y="3801">2023/05/10</text><text x="655" y="3801">2023/06/10</text><text x="730" y="3801">2023/07/10</text><text x="807" y="3801">2023/08/10</text></g>
<g transform="translate(0,3531.1) scale(0.551,31.3)">
<path class="ln" stroke="#2f4f8f" d="M85,1.5 L90,1.8 L95,2.8 L105,3.1 L130,3.35 L160,3.4 L170,3.7 L185,4.4 L200,4.9 L230,5.5 L250,5.95 L262,6.0 L275,5.5 L290,5.1 L320,5.1 L350,5.2 L390,5.2 L405,4.9 L415,4.65 L425,4.8 L440,5.3 L455,5.45 L480,5.55 L495,5.8 L515,6.1 L530,5.9 L560,5.5 L580,5.2 L592,5.15 L605,5.3 L625,5.1 L645,4.95 L665,4.9 L675,4.7 L690,3.8 L705,3.25 L740,3.15 L755,2.9 L770,2.6 L800,2.45 L825,2.2 L840,2.15 L860,2.15 L875,1.8 L895,1.4 L905,1.6 L915,1.95 L935,2.05 L960,2.1 L970,2.4 L980,2.9 L990,3.0 L1005,2.7 L1020,2.5 L1050,2.45 L1080,2.25 L1100,2.4 L1120,2.55 L1145,2.6 L1160,2.5 L1185,2.25 L1210,2.35 L1240,2.35 L1260,2.3 L1275,2.35 L1290,1.8 L1310,1.4 L1330,1.3 L1345,1.2 L1365,0.95 L1380,1.0 L1395,1.2 L1410,1.45 L1430,1.9 L1445,2.1 L1465,2.25"/>
</g>
<g font-size="16" fill="#444">
<text x="4" y="3838">2023年8月10日兰格钢铁网发布(第387期)全国主要钢铁企业高炉开工率数据：</text>
<text x="4" y="3861" textLength="850">全国201家生产企业中有55家钢厂共计81座高炉停产，其中在检修有51家76座(上周为52家77座)，81座停产高炉总容积为</text>
<text x="4" y="3885" textLength="790">78200立方米，较上周增加1130立方米，按容积计算主要钢铁企业高炉开工率为79.76%，较上周下降0.21%。</text>
<text x="4" y="3910">影响日铁水量为22.04万吨，较上周减少0.4万吨。</text>
</g>

<!-- section cost -->
<line x1="0" y1="3917.6" x2="864" y2="3917.6" stroke="#000" stroke-width="1.5"/>
<rect x="1" y="3918" width="20" height="39" fill="#2f4f8f"/>
<text x="30" y="3943" font-size="22" font-weight="bold" fill="#2a4a8e">唐山钢坯成本与利润　（元/吨）</text>
<line x1="0" y1="3959" x2="864" y2="3959" stroke="#000" stroke-width="1.5"/>
<ellipse cx="278" cy="4099" rx="90" ry="40" fill="#dbe6f3"/>
<text x="278" y="4120" font-size="52" font-weight="bold" fill="#c8c8c8" text-anchor="middle">LGMI</text>
<text x="420" y="4115" class="sf" font-size="40" fill="#d0d0d0" textLength="245">www.lgmi.com</text>
<text x="434" y="4002" class="sf" font-size="16" fill="#555" text-anchor="middle">钢坯出厂价与钢坯生产成本均价走势对比图</text>
<line x1="285" y1="4017" x2="314" y2="4017" stroke="#c00000" stroke-width="3"/><text x="318" y="4022" font-size="12" fill="#777">迁安方坯</text>
<line x1="407" y1="4017" x2="437" y2="4017" stroke="#2f4f8f" stroke-width="3"/><text x="440" y="4022" font-size="12" fill="#777">钢坯成本均值（月度累计）</text>
<g font-size="13" fill="#555" text-anchor="end"><text x="54" y="3988">4100</text><text x="54" y="4012">4000</text><text x="54" y="4037">3900</text><text x="54" y="4062">3800</text><text x="54" y="4087">3700</text><text x="54" y="4112">3600</text><text x="54" y="4136">3500</text><text x="54" y="4161">3400</text><text x="54" y="4186">3300</text><text x="54" y="4211">3200</text></g>
<line x1="62" y1="3983" x2="62" y2="4206" stroke="#bbb"/><line x1="62" y1="4206" x2="793" y2="4206" stroke="#bbb"/>
<g font-size="12" fill="#999" text-anchor="end">
<text transform="translate(66,4216) rotate(-45)">4月5日</text><text transform="translate(106,4216) rotate(-45)">4月12日</text><text transform="translate(147,4216) rotate(-45)">4月19日</text><text transform="translate(187,4216) rotate(-45)">4月26日</text><text transform="translate(227,4216) rotate(-45)">5月3日</text><text transform="translate(267,4216) rotate(-45)">5月10日</text><text transform="translate(308,4216) rotate(-45)">5月17日</text><text transform="translate(348,4216) rotate(-45)">5月24日</text><text transform="translate(389,4216) rotate(-45)">5月31日</text><text transform="translate(429,4216) rotate(-45)">6月7日</text><text transform="translate(470,4216) rotate(-45)">6月14日</text><text transform="translate(510,4216) rotate(-45)">6月21日</text><text transform="translate(550,4216) rotate(-45)">6月28日</text><text transform="translate(590,4216) rotate(-45)">7月5日</text><text transform="translate(631,4216) rotate(-45)">7月12日</text><text transform="translate(671,4216) rotate(-45)">7月19日</text><text transform="translate(712,4216) rotate(-45)">7月26日</text><text transform="translate(752,4216) rotate(-45)">8月2日</text><text transform="translate(793,4216) rotate(-45)">8月9日</text>
</g>
<g transform="translate(0,3983) scale(0.551,0.2476)">
<path class="ln" stroke="#2f4f8f" d="M113,180 L182,180 L190,230 L255,230 L262,280 L328,280 L335,335 L360,335 L420,480 L475,480 L482,555 L550,555 L565,575 L580,575 L608,655 L695,655 L703,690 L768,690 L777,720 L843,720 L850,725 L913,725 L918,660 L990,660 L998,685 L1062,685 L1070,680 L1132,680 L1142,655 L1205,655 L1213,635 L1280,635 L1288,595 L1355,595 L1363,545 L1438,550"/>
<path class="ln" stroke="#c00000" d="M113,300 L135,295 L150,320 L170,350 L190,350 L200,380 L210,360 L245,360 L255,340 L265,360 L280,400 L295,460 L305,510 L318,570 L325,540 L340,545 L350,590 L360,610 L420,625 L465,625 L475,605 L485,645 L495,630 L520,645 L540,660 L555,650 L565,635 L575,670 L590,705 L610,740 L620,715 L628,800 L705,800 L715,780 L725,710 L740,660 L755,600 L765,630 L775,660 L785,640 L795,560 L810,570 L825,590 L835,585 L845,545 L870,490 L890,505 L905,520 L915,520 L920,550 L940,580 L960,610 L980,630 L985,580 L1000,580 L1010,560 L1030,555 L1055,535 L1085,535 L1100,565 L1120,610 L1130,585 L1155,580 L1165,540 L1175,545 L1195,570 L1205,550 L1220,545 L1235,505 L1255,490 L1270,485 L1280,450 L1290,450 L1300,430 L1310,450 L1355,450 L1370,520 L1390,525 L1415,540 L1425,560 L1438,560"/>
</g>
<text x="4" y="4312" font-size="16" fill="#444" textLength="810">本周（8月9日）唐山地区样本长流程钢厂，钢坯含税累计成本（调研值，不含三费）均值为3548元，周环比减少4元</text>
</svg>

<!-- price table -->
<table style="left:0;top:259px;width:864px;font-size:17px;color:#333">
<colgroup><col style="width:202px"><col style="width:200px"><col style="width:158px"><col style="width:304px"></colgroup>
<tr style="height:26px;color:#4a6fb0"><td style="border:1.5px solid #000">产品</td><td style="border:1.5px solid #000">规格</td><td style="border:1.5px solid #000">价格</td><td style="border:1.5px solid #000">较上个交易日</td></tr>
<tr style="height:30px"><td style="border:1.5px solid #000;color:#3c5a9a">方坯（迁安出厂价）</td><td style="border:1.5px solid #000;color:#3c5a9a">150*150</td><td style="border:1.5px solid #000">3520</td><td style="border:1.5px solid #000">-</td></tr>
<tr style="height:28px"><td style="border:1.5px solid #000;color:#3c5a9a">角钢（正丰）</td><td style="border:1.5px solid #000;color:#3c5a9a">5-10</td><td style="border:1.5px solid #000">3840</td><td style="border:1.5px solid #000;color:#4a8a1a">↓20</td></tr>
<tr style="height:29px"><td style="border:1.5px solid #000;color:#3c5a9a">小窄带（含税出厂）</td><td style="border:1.5px solid #000;color:#3c5a9a">145</td><td style="border:1.5px solid #000">3800</td><td style="border:1.5px solid #000;color:#4a8a1a">↓10</td></tr>
</table>

<!-- futures table -->
<table style="left:0;top:720px;width:864px;font-size:17px;color:#444">
<colgroup><col style="width:257px"><col style="width:303px"><col style="width:304px"></colgroup>
<tr style="height:25px"><td style="border:1.5px solid #000;color:#2a4a8e;font-weight:bold">品种</td><td style="border:1.5px solid #000;color:#4a6fb0">开盘价</td><td style="border:1.5px solid #000;color:#4a6fb0">上一交易日收盘价</td></tr>
<tr style="height:25px"><td style="border:1.5px solid #000;color:#2a4a8e;font-weight:bold">螺纹钢期货</td><td style="border:1.5px solid #000">3670</td><td style="border:1.5px solid #000">3700</td></tr>
<tr style="height:25px"><td style="border:1.5px solid #000;color:#2a4a8e;font-weight:bold">热卷期货</td><td style="border:1.5px solid #000">3921</td><td style="border:1.5px solid #000">3964</td></tr>
<tr style="height:25px"><td style="border:1.5px solid #000;color:#2a4a8e;font-weight:bold">铁矿石期货</td><td style="border:1.5px solid #000">718</td><td style="border:1.5px solid #000">723</td></tr>
<tr style="height:25px"><td style="border:1.5px solid #000;color:#2a4a8e;font-weight:bold">焦炭期货</td><td style="border:1.5px solid #000">2219</td><td style="border:1.5px solid #000">2273.5</td></tr>
</table>

<!-- T2 -->
<table style="left:26px;top:1110px;width:759px">
<colgroup><col style="width:32px"><col style="width:80px"><col style="width:81px"><col style="width:81px"><col style="width:81px"><col style="width:81px"><col style="width:81px"><col style="width:80px"><col style="width:81px"><col style="width:81px"></colgroup>
<tr style="height:22px"><td class="e"></td><td>23/8/1</td><td>23/8/2</td><td>23/8/3</td><td>23/8/4</td><td>23/8/7</td><td>23/8/8</td><td>23/8/9</td><td>23/8/10</td><td>23/8/11</td></tr>
<tr style="height:20px"><td style="font-size:13px">期货</td><td>3862</td><td>3801</td><td>3728</td><td>3736</td><td>3732</td><td>3692</td><td>3700</td><td>3671</td><td>3670</td></tr>
<tr style="height:19px"><td style="font-size:13px">方坯</td><td>3650</td><td>3620</td><td>3580</td><td>3580</td><td>3560</td><td>3540</td><td>3540</td><td>3520</td><td>3520</td></tr>
<tr style="height:20px"><td style="font-size:13px">价差</td><td>212</td><td>181</td><td>148</td><td>156</td><td>172</td><td>152</td><td>160</td><td>151</td><td>150</td></tr>
</table>

<!-- T3 -->
<table style="left:18px;top:1468px;width:783px">
<colgroup><col style="width:58px"><col style="width:73px"><col style="width:72px"><col style="width:73px"><col style="width:72px"><col style="width:73px"><col style="width:72px"><col style="width:72px"><col style="width:73px"><col style="width:72px"><col style="width:73px"></colgroup>
<tr style="height:21px"><td class="e"></td><td>23/7/28</td><td>23/7/31</td><td>23/8/1</td><td>23/8/2</td><td>23/8/3</td><td>23/8/4</td><td>23/8/7</td><td>23/8/8</td><td>23/8/9</td><td>23/8/10</td></tr>
<tr style="height:20px"><td style="font-size:13px;text-align:left">唐山螺纹</td><td>3790</td><td>3770</td><td>3760</td><td>3740</td><td>3680</td><td>3700</td><td>3680</td><td>3650</td><td>3630</td><td>3620</td></tr>
<tr style="height:20px"><td style="font-size:13px;text-align:left">迁安方坯</td><td>3650</td><td>3650</td><td>3650</td><td>3620</td><td>3580</td><td>3580</td><td>3560</td><td>3540</td><td>3540</td><td>3520</td></tr>
<tr style="height:19px"><td style="font-size:13px;text-align:left">价差</td><td>140</td><td>120</td><td>110</td><td>120</td><td>100</td><td>120</td><td>120</td><td>110</td><td>90</td><td>100</td></tr>
</table>

<!-- T4 -->
<table style="left:20px;top:1821px;width:796px">
<colgroup><col style="width:59px"><col style="width:60px"><col style="width:62px"><col style="width:61px"><col style="width:62px"><col style="width:61px"><col style="width:62px"><col style="width:61px"><col style="width:62px"><col style="width:62px"><col style="width:61px"><col style="width:61px"><col style="width:62px"></colgroup>
<tr style="height:22px"><td class="e"></td><td>23/7/27</td><td>23/7/28</td><td>23/7/31</td><td>23/8/1</td><td>23/8/2</td><td>23/8/3</td><td>23/8/4</td><td>23/8/7</td><td>23/8/8</td><td>23/8/9</td><td>23/8/10</td><td>23/8/11</td></tr>
<tr style="height:20px"><td style="font-size:13px;text-align:left">唐山角钢</td><td>3950</td><td>3950</td><td>3950</td><td>3950</td><td>3950</td><td>3920</td><td>3880</td><td>3880</td><td>3880</td><td>3860</td><td>3860</td><td>3840</td></tr>
<tr style="height:20px"><td style="font-size:13px;text-align:left">迁安方坯</td><td>3670</td><td>3650</td><td>3650</td><td>3650</td><td>3620</td><td>3580</td><td>3580</td><td>3560</td><td>3540</td><td>3540</td><td>3520</td><td>3520</td></tr>
<tr style="height:20px"><td style="font-size:13px;text-align:left">价差</td><td>280</td><td>300</td><td>300</td><td>300</td><td>330</td><td>340</td><td>300</td><td>320</td><td>340</td><td>320</td><td>340</td><td>320</td></tr>
</table>

<!-- T5 -->
<table style="left:21px;top:2150px;width:792px">
<colgroup><col style="width:58px"><col style="width:81px"><col style="width:82px"><col style="width:81px"><col style="width:83px"><col style="width:81px"><col style="width:82px"><col style="width:81px"><col style="width:81px"><col style="width:82px"></colgroup>
<tr style="height:22px"><td class="e"></td><td>23/8/1</td><td>23/8/2</td><td>23/8/3</td><td>23/8/4</td><td>23/8/7</td><td>23/8/8</td><td>23/8/9</td><td>23/8/10</td><td>23/8/11</td></tr>
<tr style="height:20px"><td style="font-size:13px;text-align:left">小窄带</td><td>3920</td><td>3890</td><td>3860</td><td>3880</td><td>3820</td><td>3820</td><td>3800</td><td>3810</td><td>3800</td></tr>
<tr style="height:20px"><td style="font-size:13px;text-align:left">迁安方坯</td><td>3650</td><td>3620</td><td>3580</td><td>3580</td><td>3560</td><td>3540</td><td>3540</td><td>3520</td><td>3520</td></tr>
<tr style="height:20px"><td style="font-size:13px;text-align:left">带坯差</td><td>270</td><td>270</td><td>280</td><td>300</td><td>260</td><td>280</td><td>260</td><td>290</td><td>280</td></tr>
</table>

<!-- T6 -->
<table style="left:14px;top:2533px;width:786px;font-size:13px;color:#666">
<colgroup><col style="width:70px"><col style="width:60px"><col style="width:60px"><col style="width:60px"><col style="width:59px"><col style="width:60px"><col style="width:59px"><col style="width:61px"><col style="width:59px"><col style="width:60px"><col style="width:60px"><col style="width:59px"><col style="width:59px"></colgroup>
<tr style="height:22px"><td class="e" style="border-color:#999"></td><td style="border-color:#999">23/7/26</td><td style="border-color:#999">23/7/27</td><td style="border-color:#999">23/7/28</td><td style="border-color:#999">23/7/31</td><td style="border-color:#999">23/8/1</td><td style="border-color:#999">23/8/2</td><td style="border-color:#999">23/8/3</td><td style="border-color:#999">23/8/4</td><td style="border-color:#999">23/8/7</td><td style="border-color:#999">23/8/8</td><td style="border-color:#999">23/8/9</td><td style="border-color:#999">23/8/10</td></tr>
<tr style="height:22px"><td style="border-color:#999;text-align:left">唐山铁精粉</td><td style="border-color:#999">1085</td><td style="border-color:#999">1085</td><td style="border-color:#999">1085</td><td style="border-color:#999">1085</td><td style="border-color:#999">1090</td><td style="border-color:#999">1100</td><td style="border-color:#999">1090</td><td style="border-color:#999">1090</td><td style="border-color:#999">1090</td><td style="border-color:#999">1080</td><td style="border-color:#999">1065</td><td style="border-color:#999">1065</td></tr>
<tr style="height:21px"><td style="border-color:#999;text-align:left">迁安方坯</td><td style="border-color:#999">3650</td><td style="border-color:#999">3670</td><td style="border-color:#999">3650</td><td style="border-color:#999">3650</td><td style="border-color:#999">3650</td><td style="border-color:#999">3620</td><td style="border-color:#999">3580</td><td style="border-color:#999">3580</td><td style="border-color:#999">3560</td><td style="border-color:#999">3540</td><td style="border-color:#999">3540</td><td style="border-color:#999">3520</td></tr>
</table>

<!-- T7 -->
<table style="left:35px;top:2861px;width:806px">
<colgroup><col style="width:45px"><col style="width:63px"><col style="width:64px"><col style="width:63px"><col style="width:63px"><col style="width:64px"><col style="width:63px"><col style="width:63px"><col style="width:64px"><col style="width:64px"><col style="width:64px"><col style="width:64px"><col style="width:62px"></colgroup>
<tr style="height:20px"><td class="e"></td><td>23/7/26</td><td>23/7/27</td><td>23/7/28</td><td>23/7/31</td><td>23/8/1</td><td>23/8/2</td><td>23/8/3</td><td>23/8/4</td><td>23/8/7</td><td>23/8/8</td><td>23/8/9</td><td>23/8/10</td></tr>
<tr style="height:20px"><td style="font-size:13px">螺矿比</td><td>3.47</td><td>3.48</td><td>3.47</td><td>3.47</td><td>3.46</td><td>3.43</td><td>3.41</td><td>3.39</td><td>3.38</td><td>3.40</td><td>3.42</td><td>3.42</td></tr>
<tr style="height:20px"><td style="font-size:13px">坯矿比</td><td>3.36</td><td>3.38</td><td>3.36</td><td>3.36</td><td>3.35</td><td>3.29</td><td>3.28</td><td>3.28</td><td>3.27</td><td>3.28</td><td>3.32</td><td>3.31</td></tr>
<tr style="height:20px"><td style="font-size:13px">卷矿比</td><td>3.68</td><td>3.72</td><td>3.72</td><td>3.72</td><td>3.71</td><td>3.65</td><td>3.67</td><td>3.68</td><td>3.64</td><td>3.68</td><td>3.73</td><td>3.71</td></tr>
</table>
</div></body></html>
